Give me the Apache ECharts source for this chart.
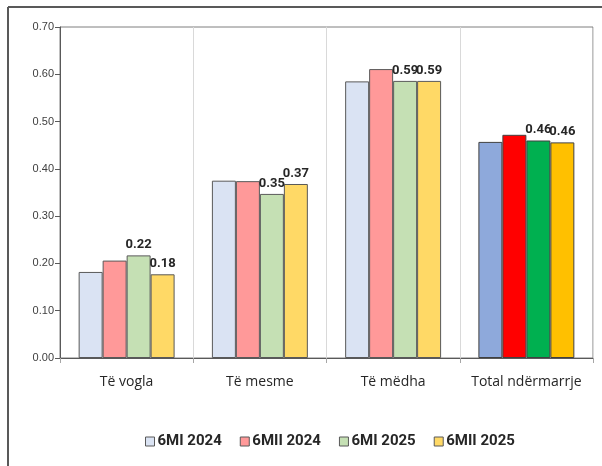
<!DOCTYPE html>
<html>
<head>
<meta charset="utf-8">
<script src="https://cdn.jsdelivr.net/npm/echarts@6/dist/echarts.min.js"></script>
<style>
  html, body { margin: 0; padding: 0; background: #fff; }
  #chart { width: 602px; height: 466px; }
</style>
</head>
<body>
<div id="chart"></div>
<script>
// categories and values
const categories = ['Të vogla', 'Të mesme', 'Të mëdha', 'Total ndërmarrje'];
const seriesNames = ['6MI 2024', '6MII 2024', '6MI 2025', '6MII 2025'];
const mi2024 = [0.182, 0.375, 0.585, 0.457];
const mii2024 = [0.206, 0.374, 0.611, 0.472];
const mi2025 = [0.217, 0.347, 0.586, 0.460];
const mii2025 = [0.177, 0.368, 0.586, 0.456];
const yTicks = [0, 0.1, 0.2, 0.3, 0.4, 0.5, 0.6, 0.7];

// light colours for the size groups, strong ones for the total
const lightColors = ['#DAE3F3', '#FF9999', '#C5E0B4', '#FFD966'];
const totalColors = ['#8EA9DB', '#FF0000', '#00B050', '#FFC000'];
const showLabel = [false, false, true, true];

const boldFont = 'Roboto, sans-serif';

const makeSeries = (values, i) => ({
  name: seriesNames[i],
  type: 'bar',
  barGap: '0%',
  barCategoryGap: '28%',
  itemStyle: { color: lightColors[i], borderColor: '#595959', borderWidth: 1 },
  label: {
    show: showLabel[i],
    position: 'top',
    distance: 4,
    formatter: p => p.value.toFixed(2),
    fontFamily: boldFont,
    fontWeight: 'bold',
    fontSize: 13,
    color: '#262626'
  },
  data: values.map((v, j) => j === categories.length - 1
    ? { value: v, itemStyle: { color: totalColors[i], borderColor: '#404040' } }
    : v)
});

const chart = echarts.init(document.getElementById('chart'));
chart.setOption({
  animation: false,
  backgroundColor: '#fff',
  graphic: [
    { type: 'line', shape: { x1: 8, y1: 7, x2: 602, y2: 7 }, style: { stroke: '#595959', lineWidth: 2 } },
    { type: 'line', shape: { x1: 8, y1: 7, x2: 8, y2: 466 }, style: { stroke: '#595959', lineWidth: 2 } }
  ],
  grid: {
    left: 60, right: 9, top: 27, bottom: 108,
    show: true, borderColor: '#7f7f7f', borderWidth: 1
  },
  legend: {
    top: 429,
    left: 140,
    itemWidth: 9,
    itemHeight: 9,
    itemGap: 18,
    icon: 'rect',
    itemStyle: { borderColor: '#595959', borderWidth: 1 },
    textStyle: { fontFamily: boldFont, fontWeight: 'bold', fontSize: 15, color: '#262626', padding: [0, 0, 0, -2] },
    data: seriesNames
  },
  xAxis: {
    type: 'category',
    data: categories,
    axisLine: { lineStyle: { color: '#595959' } },
    axisTick: { show: true, length: 5, interval: 0, lineStyle: { color: '#a6a6a6' } },
    splitLine: { show: true, interval: 0, lineStyle: { color: '#d9d9d9' } },
    axisLabel: { interval: 0, fontFamily: '"Open Sans", sans-serif', fontSize: 14, color: '#262626', margin: 17 }
  },
  yAxis: {
    type: 'value',
    min: yTicks[0],
    max: yTicks[yTicks.length - 1],
    interval: 0.1,
    axisLine: { show: true, lineStyle: { color: '#595959' } },
    axisTick: { show: true, length: 5, lineStyle: { color: '#595959' } },
    splitLine: { show: false },
    axisLabel: {
      fontFamily: '"Liberation Sans", sans-serif',
      fontSize: 11,
      color: '#404040',
      margin: 6,
      formatter: v => v.toFixed(2)
    }
  },
  series: [mi2024, mii2024, mi2025, mii2025].map(makeSeries)
});
</script>
</body>
</html>
